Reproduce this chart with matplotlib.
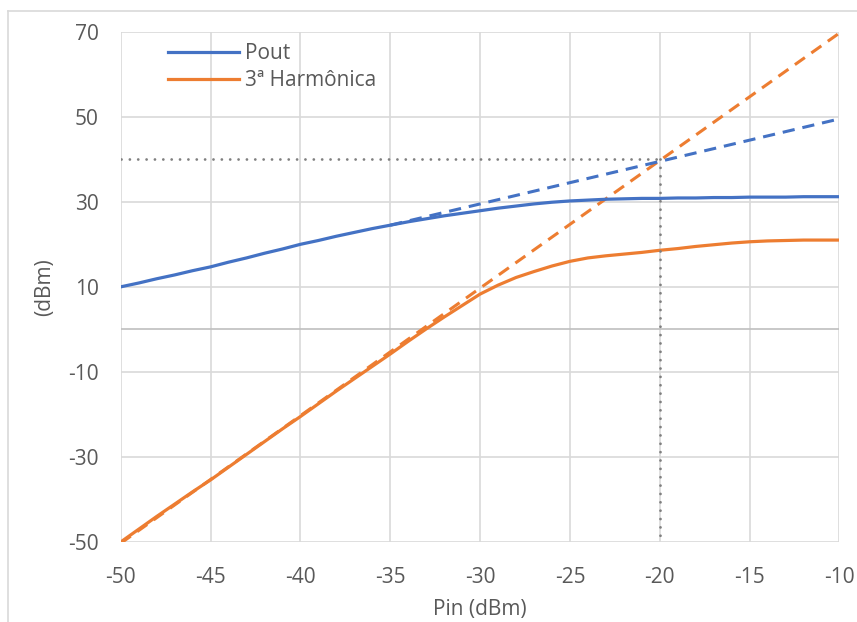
import numpy as np
from matplotlib import pyplot as plt
from matplotlib.lines import Line2D

# Pin sweep (dBm)
pin = np.arange(-50, -9, 1)
pout = [10.0, 10.9, 11.9, 12.8, 13.8, 14.7, 15.8, 16.8, 17.9, 18.9, 20.0,
        20.9, 21.9, 22.8, 23.7, 24.5, 25.3, 26.0, 26.7, 27.3, 27.9,
        28.5, 29.0, 29.5, 29.9, 30.2, 30.4, 30.6, 30.7, 30.8, 30.8,
        30.9, 30.9, 31.0, 31.0, 31.1, 31.1, 31.1, 31.2, 31.2, 31.2]
harm3 = [-50.0, -47.0, -44.0, -41.1, -38.2, -35.4, -32.4, -29.4, -26.4, -23.4, -20.5,
         -17.5, -14.5, -11.6, -8.7, -5.8, -2.8, 0.1, 2.9, 5.6, 8.3,
         10.4, 12.2, 13.6, 14.9, 16.0, 16.8, 17.3, 17.7, 18.1, 18.6,
         19.0, 19.5, 19.9, 20.3, 20.6, 20.8, 20.9, 21.0, 21.0, 21.0]

# linear extrapolations
pout_ext_x = [-35, -10]
pout_ext_y = [24.5, 49.5]
harm_ext_x = [-50, -10]
harm_ext_y = [-50.3, 69.7]

# intercept point
ip3_x = -20
ip3_y = 40

blue = '#4472C4'
orange = '#ED7D31'
txt = '#595959'
plt.rcParams['font.family'] = ['Open Sans', 'DejaVu Sans']
plt.rcParams['axes.unicode_minus'] = False

fig = plt.figure(figsize=(8.57, 6.22), dpi=100)
ax = fig.add_axes([120.7/857, 1-542/622, (839.5-120.7)/857, (542-31.7)/622])

# outer chart border (cut by image edge)
fig.add_artist(Line2D([8/857, 1], [1-11/622, 1-11/622], color='#D9D9D9', lw=1.2))
fig.add_artist(Line2D([8/857, 8/857], [0, 1-11/622], color='#D9D9D9', lw=1.2))

ax.plot(harm_ext_x, harm_ext_y, color=orange, lw=2.2, ls=(0, (4, 2.6)), zorder=3)
ax.plot(pout_ext_x, pout_ext_y, color=blue, lw=2.2, ls=(0, (4, 2.6)), zorder=3)
ax.plot(pin, pout, color=blue, lw=2.3, label='Pout', zorder=4)
ax.plot(pin, harm3, color=orange, lw=2.3, label='3ª Harmônica', zorder=4)

dot = dict(color='#7F7F7F', lw=2, ls=(0, (0.01, 3)), dash_capstyle='round', zorder=5)
ax.plot([-50, ip3_x], [ip3_y, ip3_y], **dot)
ax.plot([ip3_x, ip3_x], [ip3_y, -50], **dot)

ax.axhline(0, color='#BFBFBF', lw=1.2, zorder=1)

ax.set_xlim(-50, -10)
ax.set_ylim(-50, 70)
ax.set_xticks(np.arange(-50, -9, 5))
ax.set_yticks(np.arange(-50, 71, 20))
ax.grid(True, color='#D9D9D9', lw=1.2, zorder=0)
ax.set_axisbelow(True)
for s in ax.spines.values():
    s.set_visible(False)
ax.tick_params(length=0, labelsize=15, colors=txt)
ax.tick_params(axis='x', pad=18)
ax.tick_params(axis='y', pad=16)

ax.set_xlabel('Pin (dBm)', fontsize=15, color=txt, labelpad=8)
ax.set_ylabel('(dBm)', fontsize=15, color=txt, labelpad=9)

ax.legend(loc='upper left', bbox_to_anchor=(0.05, 1.0), frameon=False,
          fontsize=15, labelcolor=txt, handlelength=3.4, handletextpad=0.3,
          labelspacing=0.3, borderaxespad=0.15)

plt.savefig('out.png', dpi=100)
